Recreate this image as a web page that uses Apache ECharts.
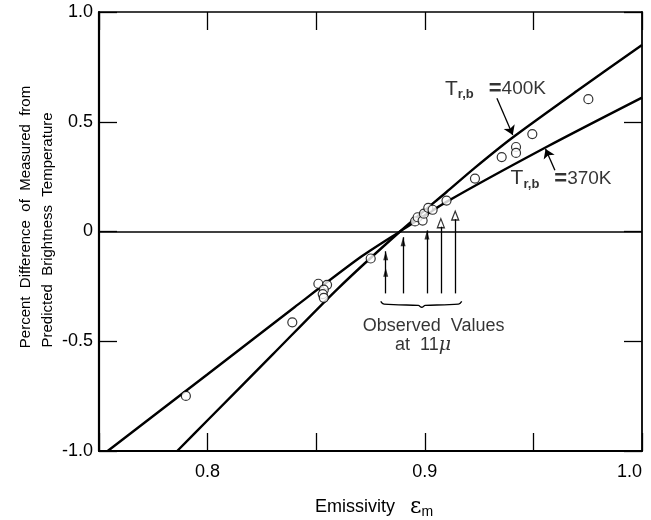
<!DOCTYPE html>
<html>
<head>
<meta charset="utf-8">
<script src="https://cdn.jsdelivr.net/npm/echarts@6/dist/echarts.min.js"></script>
<style>
  html, body { margin: 0; padding: 0; background: #fff; }
  #chart { width: 651px; height: 520px; }
</style>
</head>
<body>
<div id="chart"></div>
<script>
// Predicted curves: percent difference vs emissivity for two radiometric temperatures
const emissivity400 = [0.786, 0.800, 0.830, 0.860, 0.8886, 0.910, 0.923, 0.940, 0.970, 1.000];
const diff400       = [-1.00, -0.86, -0.56, -0.26, 0.00, 0.18, 0.29, 0.425, 0.64, 0.85];

const emissivity370 = [0.754, 0.800, 0.840, 0.870, 0.8886, 0.910, 0.956, 1.000];
const diff370       = [-1.00, -0.65, -0.345, -0.12, 0.00, 0.135, 0.385, 0.61];

// Measured points
const measuredEmissivity = [0.790, 0.839, 0.851, 0.855, 0.8535, 0.853, 0.8535, 0.8751,
  0.8955, 0.8967, 0.899, 0.8996, 0.9016, 0.9036, 0.910, 0.9231, 0.9354, 0.942, 0.942, 0.9495, 0.9753];
const measuredDiff = [-0.749, -0.414, -0.238, -0.243, -0.265, -0.285, -0.302, -0.123,
  0.046, 0.065, 0.050, 0.081, 0.108, 0.099, 0.141, 0.241, 0.339, 0.385, 0.358, 0.444, 0.603];

// Observed values at 11 micron (vertical arrows)
const observedEmissivity = [0.882, 0.890, 0.901, 0.9074, 0.914];
const observedShaftTop   = [-0.09, -0.026, 0.005, 0.022, 0.056];
const observedBase       = -0.282;
const solidHeadEmissivity = [0.882, 0.882, 0.890, 0.901];
const solidHeadTip        = [-0.09, -0.165, -0.026, 0.005];
const openHeadEmissivity  = [0.9074, 0.914];
const openHeadTip         = [0.058, 0.093];

// Curly brace under the arrows
const braceEmissivity = [0.8797, 0.8812, 0.8880, 0.8970, 0.8986, 0.9002, 0.9090, 0.9155, 0.9170];
const braceDiff       = [-0.318, -0.331, -0.334, -0.337, -0.345, -0.337, -0.334, -0.331, -0.318];

// Leader arrows from the curve labels
const leader400 = [[0.9332, 0.607], [0.9405, 0.440]];
const leader370 = [[0.9599, 0.279], [0.9556, 0.376]];

// Tick labels
const xTickValues = [0.8, 0.9, 1.0];
const xTickLabels = ['0.8', '0.9', '1.0'];
const yTickValues = [-1, -0.5, 0, 0.5, 1];
const yTickLabels = ['-1.0', '-0.5', '0', '0.5', '1.0'];

const FONT = '"Liberation Sans", Arial, sans-serif';
const BLACK = '#000';

const pair = (xs, ys) => xs.map((x, i) => [x, ys[i]]);
const findLabel = (v, vals, labels) => {
  const i = vals.findIndex(t => Math.abs(t - v) < 1e-9);
  return i < 0 ? '' : labels[i];
};

function xAxisCfg(position, showLabels, lineWidth) {
  return {
    type: 'value', position, min: 0.75, max: 1.0, interval: 0.05,
    splitLine: { show: false },
    axisLine: { show: true, onZero: false, lineStyle: { color: BLACK, width: lineWidth } },
    axisTick: { show: true, inside: true, length: 18, lineStyle: { color: BLACK, width: 1.3 } },
    axisLabel: {
      show: showLabels, margin: 12, color: BLACK, fontSize: 18, fontFamily: FONT,
      alignMaxLabel: 'right',
      formatter: v => findLabel(v, xTickValues, xTickLabels)
    }
  };
}
function yAxisCfg(position, showLabels, lineWidth) {
  return {
    type: 'value', position, min: -1, max: 1, interval: 0.5,
    splitLine: { show: false },
    axisLine: { show: true, onZero: false, lineStyle: { color: BLACK, width: lineWidth } },
    axisTick: { show: true, inside: true, length: 18, lineStyle: { color: BLACK, width: 1.3 } },
    axisLabel: {
      show: showLabels, margin: 6, color: BLACK, fontSize: 18, fontFamily: FONT,
      formatter: v => findLabel(v, yTickValues, yTickLabels)
    }
  };
}

const subRich = {
  T: { fontSize: 21, fontFamily: FONT, color: BLACK, lineHeight: 24 },
  s: { fontSize: 13, fontFamily: FONT, color: BLACK, lineHeight: 12, verticalAlign: 'bottom', fontWeight: 'bold' },
  g: { fontSize: 18, fontFamily: FONT, lineHeight: 24 },
  eq: { fontSize: 22, fontFamily: FONT, fontWeight: 'bold', color: BLACK, lineHeight: 24 },
  e: { fontSize: 19, fontFamily: FONT, color: BLACK, lineHeight: 24 },
  t: { fontSize: 18, fontFamily: FONT, color: BLACK, lineHeight: 24 },
  mu: { fontSize: 19, fontFamily: '"DejaVu Serif", serif', fontStyle: 'italic', color: BLACK, lineHeight: 24 }
};

const notes = [
  { value: [0.9093, 0.648], text: '{T|T}{s|r,b}{g|   }{eq|=}{e|400K}' },
  { value: [0.9395, 0.241], text: '{T|T}{s|r,b}{g|   }{eq|=}{e|370K}' },
  { value: [0.8714, -0.429], text: '{t|Observed  Values}' },
  { value: [0.8863, -0.516], text: '{t|at  11}{mu|μ}' }
];

const chart = echarts.init(document.getElementById('chart'), null, { renderer: 'canvas' });

chart.setOption({
  animation: false,
  backgroundColor: '#fff',
  grid: { left: 99, right: 9, top: 12, bottom: 69 },
  xAxis: [xAxisCfg('bottom', true, 2.2), xAxisCfg('top', false, 1.5)],
  yAxis: [yAxisCfg('left', true, 2.2), yAxisCfg('right', false, 1.8)],
  series: [
    {
      name: '400K', type: 'line', data: pair(emissivity400, diff400),
      showSymbol: false, smooth: 0.25, lineStyle: { color: BLACK, width: 2.4 }, silent: true,
      markLine: {
        silent: true, symbol: 'none', label: { show: false },
        lineStyle: { color: BLACK, width: 1.5, type: 'solid' },
        data: [{ yAxis: 0 }]
      }
    },
    {
      name: '370K', type: 'line', data: pair(emissivity370, diff370),
      showSymbol: false, smooth: 0.25, lineStyle: { color: BLACK, width: 2.4 }, silent: true
    },
    {
      name: 'brace', type: 'line', data: pair(braceEmissivity, braceDiff),
      showSymbol: false, smooth: 0.4, lineStyle: { color: BLACK, width: 1.3 }, silent: true
    },
    {
      name: 'observed', type: 'scatter', data: pair(solidHeadEmissivity, solidHeadTip),
      symbol: 'triangle', symbolSize: [5, 9], symbolOffset: [0, '50%'],
      itemStyle: { color: BLACK }, silent: true, z: 4,
      markLine: {
        silent: true, symbol: 'none', label: { show: false },
        lineStyle: { color: BLACK, width: 1.3, type: 'solid' },
        data: observedEmissivity.map((x, i) => [{ coord: [x, observedBase] }, { coord: [x, observedShaftTop[i]] }])
      }
    },
    {
      name: 'observedOpen', type: 'scatter', data: pair(openHeadEmissivity, openHeadTip),
      symbol: 'triangle', symbolSize: [7, 9], symbolOffset: [0, '50%'],
      itemStyle: { color: '#fff', borderColor: BLACK, borderWidth: 1.3 }, silent: true, z: 4,
      markLine: {
        silent: true, symbol: ['none', 'arrow'], symbolSize: 9, label: { show: false },
        lineStyle: { color: BLACK, width: 1.3, type: 'solid' },
        data: [
          [{ coord: leader400[0] }, { coord: leader400[1] }],
          [{ coord: leader370[0] }, { coord: leader370[1] }]
        ]
      }
    },
    {
      name: 'measured', type: 'scatter', data: pair(measuredEmissivity, measuredDiff),
      symbol: 'circle', symbolSize: 9,
      itemStyle: { color: '#fff', borderColor: BLACK, borderWidth: 1.2 }, silent: true, z: 5
    },
    {
      name: 'notes', type: 'scatter', symbolSize: 0, silent: true, z: 6,
      data: notes.map(n => ({ value: n.value, label: { formatter: n.text } })),
      label: { show: true, position: 'right', distance: 0, rich: subRich }
    }
  ],
  graphic: [
    {
      type: 'text', x: 26, y: 217, rotation: Math.PI / 2, silent: true,
      style: { text: 'Percent  Difference  of  Measured  from', font: '15px ' + FONT, fill: BLACK, align: 'center', verticalAlign: 'middle' }
    },
    {
      type: 'text', x: 48, y: 230, rotation: Math.PI / 2, silent: true,
      style: { text: 'Predicted  Brightness  Temperature', font: '15px ' + FONT, fill: BLACK, align: 'center', verticalAlign: 'middle' }
    },
    {
      type: 'text', x: 315, y: 507, silent: true,
      style: {
        text: '{a|Emissivity}{g|   }{b|ε}{c|m}', align: 'left', verticalAlign: 'middle',
        rich: {
          a: { fontSize: 18, fontFamily: FONT, color: BLACK, lineHeight: 24 },
          g: { fontSize: 18, fontFamily: FONT, lineHeight: 24 },
          b: { fontSize: 22, fontFamily: '"DejaVu Serif", serif', color: BLACK, lineHeight: 24 },
          c: { fontSize: 14, fontFamily: FONT, color: BLACK, lineHeight: 12, verticalAlign: 'bottom' }
        }
      }
    }
  ]
});
</script>
</body>
</html>
